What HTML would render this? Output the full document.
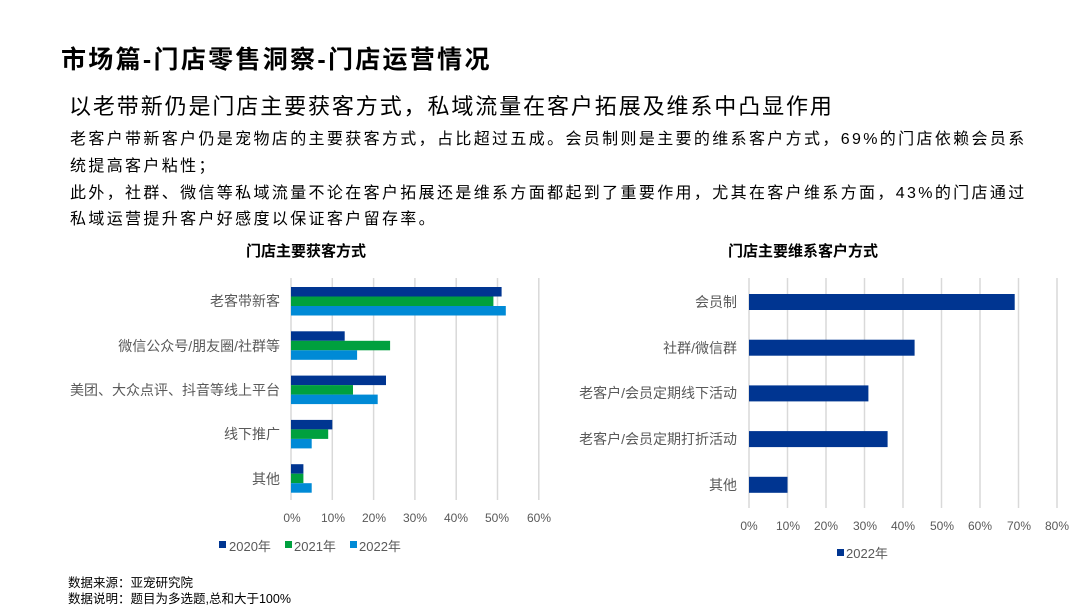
<!DOCTYPE html>
<html><head><meta charset="utf-8"><style>
body{margin:0;width:1080px;height:608px;background:#fff;position:relative;overflow:hidden;font-family:"Liberation Sans","Noto Sans CJK SC",sans-serif;color:#000}
.a{position:absolute;white-space:nowrap}
.t1{left:61px;top:40px;font-size:25px;font-weight:bold;letter-spacing:2.3px}
.t2{left:69px;top:89px;font-size:22px;letter-spacing:1.9px}
.b{left:70px;font-size:16px;letter-spacing:2.35px}
.ct{font-size:15px;font-weight:bold;top:240px}
.src{left:68px;font-size:12.5px}
</style></head><body>
<div class="a t1">市场篇-门店零售洞察-门店运营情况</div>
<div class="a t2">以老带新仍是门店主要获客方式，私域流量在客户拓展及维系中凸显作用</div>
<div class="a b" style="top:125px">老客户带新客户仍是宠物店的主要获客方式，占比超过五成。会员制则是主要的维系客户方式，69%的门店依赖会员系</div>
<div class="a b" style="top:152px">统提高客户粘性；</div>
<div class="a b" style="top:179px">此外，社群、微信等私域流量不论在客户拓展还是维系方面都起到了重要作用，尤其在客户维系方面，43%的门店通过</div>
<div class="a b" style="top:205px">私域运营提升客户好感度以保证客户留存率。</div>
<div class="a ct" style="left:246px">门店主要获客方式</div>
<div class="a ct" style="left:728px">门店主要维系客户方式</div>
<svg class="a" style="left:0;top:0" width="1080" height="608" font-family="Liberation Sans,Noto Sans CJK SC,sans-serif" font-size="13" fill="#595959">
<g stroke="#d9d9d9" stroke-width="1.5">
<line x1="291" y1="278" x2="291" y2="500"/><line x1="332.3" y1="278" x2="332.3" y2="500"/><line x1="373.6" y1="278" x2="373.6" y2="500"/><line x1="414.9" y1="278" x2="414.9" y2="500"/><line x1="456.2" y1="278" x2="456.2" y2="500"/><line x1="497.5" y1="278" x2="497.5" y2="500"/><line x1="538.8" y1="278" x2="538.8" y2="500"/>
<line x1="749" y1="278" x2="749" y2="508"/><line x1="787.5" y1="278" x2="787.5" y2="508"/><line x1="826" y1="278" x2="826" y2="508"/><line x1="864.5" y1="278" x2="864.5" y2="508"/><line x1="903" y1="278" x2="903" y2="508"/><line x1="941.5" y1="278" x2="941.5" y2="508"/><line x1="980" y1="278" x2="980" y2="508"/><line x1="1018.5" y1="278" x2="1018.5" y2="508"/><line x1="1057" y1="278" x2="1057" y2="508"/>
</g>
<g>
<rect x="291" y="287" width="210.6" height="9.5" fill="#003591"/><rect x="291" y="296.5" width="202.4" height="9.5" fill="#00a03e"/><rect x="291" y="306" width="214.8" height="9.5" fill="#008ad6"/>
<rect x="291" y="331.3" width="53.7" height="9.5" fill="#003591"/><rect x="291" y="340.8" width="99.1" height="9.5" fill="#00a03e"/><rect x="291" y="350.3" width="66.1" height="9.5" fill="#008ad6"/>
<rect x="291" y="375.6" width="95" height="9.5" fill="#003591"/><rect x="291" y="385.1" width="62" height="9.5" fill="#00a03e"/><rect x="291" y="394.6" width="86.7" height="9.5" fill="#008ad6"/>
<rect x="291" y="419.9" width="41.3" height="9.5" fill="#003591"/><rect x="291" y="429.4" width="37.2" height="9.5" fill="#00a03e"/><rect x="291" y="438.9" width="20.7" height="9.5" fill="#008ad6"/>
<rect x="291" y="464.2" width="12.4" height="9.5" fill="#003591"/><rect x="291" y="473.7" width="12.4" height="9.5" fill="#00a03e"/><rect x="291" y="483.2" width="20.7" height="9.5" fill="#008ad6"/>
</g>
<g text-anchor="end" font-size="14">
<text x="280" y="306">老客带新客</text><text x="280" y="351">微信公众号/朋友圈/社群等</text><text x="280" y="395">美团、大众点评、抖音等线上平台</text><text x="280" y="439">线下推广</text><text x="280" y="484">其他</text>
</g>
<g text-anchor="middle" font-size="12">
<text x="292" y="522">0%</text><text x="333" y="522">10%</text><text x="374" y="522">20%</text><text x="415" y="522">30%</text><text x="456" y="522">40%</text><text x="497" y="522">50%</text><text x="539" y="522">60%</text>
</g>
<rect x="219" y="541" width="7" height="7" fill="#003591"/><text x="229" y="551">2020年</text>
<rect x="285" y="541" width="7" height="7" fill="#00a03e"/><text x="294" y="551">2021年</text>
<rect x="350" y="541" width="7" height="7" fill="#008ad6"/><text x="359" y="551">2022年</text>
<g fill="#003591">
<rect x="749" y="294" width="265.7" height="16"/><rect x="749" y="339.7" width="165.6" height="16"/><rect x="749" y="385.4" width="119.4" height="16"/><rect x="749" y="431.1" width="138.6" height="16"/><rect x="749" y="476.8" width="38.5" height="16"/>
</g>
<g text-anchor="end" font-size="14">
<text x="737" y="307">会员制</text><text x="737" y="353">社群/微信群</text><text x="737" y="398">老客户/会员定期线下活动</text><text x="737" y="444">老客户/会员定期打折活动</text><text x="737" y="490">其他</text>
</g>
<g text-anchor="middle" font-size="12">
<text x="749" y="530">0%</text><text x="788" y="530">10%</text><text x="826" y="530">20%</text><text x="865" y="530">30%</text><text x="903" y="530">40%</text><text x="942" y="530">50%</text><text x="980" y="530">60%</text><text x="1019" y="530">70%</text><text x="1057" y="530">80%</text>
</g>
<rect x="837" y="549" width="7" height="7" fill="#003591"/><text x="846" y="558">2022年</text>
</svg>
<div class="a src" style="top:572px">数据来源：亚宠研究院</div>
<div class="a src" style="top:588px">数据说明：题目为多选题,总和大于100%</div>
</body></html>
